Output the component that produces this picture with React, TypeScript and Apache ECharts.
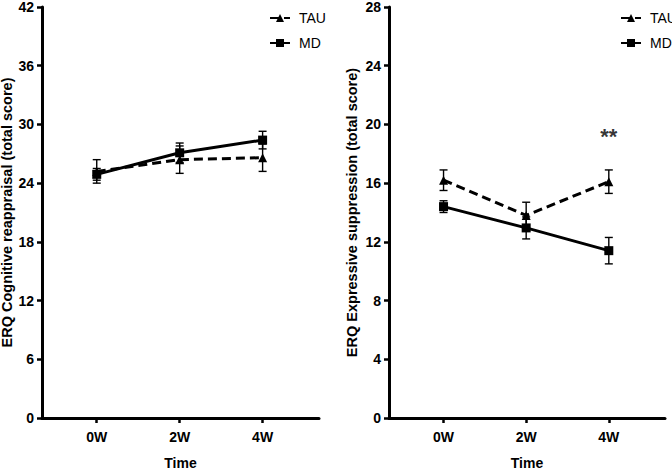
import React, { useEffect, useRef } from "react";
import * as echarts from "echarts";

const categories = ["0W", "2W", "4W"];
const catPos = [0, 1, 2];

const leftTAU = [25.2, 26.4, 26.6];
const leftTAUErr = [1.2, 1.4, 1.4];
const leftMD = [24.9, 27.1, 28.4];
const leftMDErr = [0.6, 1.0, 0.9];

const rightTAU = [16.2, 13.8, 16.1];
const rightTAUErr = [0.7, 0.9, 0.8];
const rightMD = [14.4, 12.95, 11.4];
const rightMDErr = [0.4, 0.75, 0.9];

const leftTitle = "ERQ Cognitive reappraisal (total score)";
const rightTitle = "ERQ Expressive suppression (total score)";
const xTitle = "Time";
const sigMark = { label: "**", x: 2, y: 19.2 };

const FONT = "'Liberation Sans', Arial, Helvetica, sans-serif";

function errSeries(vals: number[], errs: number[], axisIdx: number) {
  return {
    type: "custom",
    xAxisIndex: axisIdx,
    yAxisIndex: axisIdx,
    silent: true,
    z: 1,
    encode: { x: 0, y: 1 },
    data: catPos.map((p, i) => [p, vals[i], errs[i]]),
    renderItem: (params: any, api: any) => {
      const x = api.value(0);
      const y = api.value(1);
      const e = api.value(2);
      const top = api.coord([x, y + e]);
      const bot = api.coord([x, y - e]);
      const hw = 4;
      const st = { stroke: "#000", lineWidth: 1.4 };
      return {
        type: "group",
        children: [
          { type: "line", shape: { x1: top[0], y1: top[1], x2: bot[0], y2: bot[1] }, style: st },
          { type: "line", shape: { x1: top[0] - hw, y1: top[1], x2: top[0] + hw, y2: top[1] }, style: st },
          { type: "line", shape: { x1: bot[0] - hw, y1: bot[1], x2: bot[0] + hw, y2: bot[1] }, style: st },
        ],
      };
    },
  };
}

function lineSeries(name: string, vals: number[], axisIdx: number, dashed: boolean) {
  return {
    type: "line",
    name,
    xAxisIndex: axisIdx,
    yAxisIndex: axisIdx,
    z: 3,
    data: catPos.map((p, i) => [p, vals[i]]),
    symbol: dashed ? "triangle" : "rect",
    symbolSize: 9,
    itemStyle: { color: "#000" },
    lineStyle: { color: "#000", width: 3, type: dashed ? [9, 5] : "solid" },
  };
}

function xAxis(gridIndex: number) {
  return {
    type: "value",
    gridIndex,
    min: -0.66,
    max: 2.68,
    name: xTitle,
    nameLocation: "middle",
    nameGap: 38,
    nameTextStyle: { fontFamily: FONT, fontWeight: "bold", fontSize: 14, color: "#000" },
    splitLine: { show: false },
    axisLine: { show: true, onZero: false, lineStyle: { color: "#000", width: 3 } },
    axisTick: { show: true, customValues: catPos, length: 5, lineStyle: { width: 2.5, color: "#000" } },
    axisLabel: {
      customValues: catPos,
      formatter: (v: number) => categories[Math.round(v)] ?? "",
      fontFamily: FONT,
      fontWeight: "bold",
      fontSize: 14,
      color: "#000",
      margin: 12,
    },
  };
}

function yAxis(gridIndex: number, max: number, interval: number, name: string, gap: number) {
  return {
    type: "value",
    gridIndex,
    min: 0,
    max,
    interval,
    name,
    nameLocation: "middle",
    nameGap: gap,
    nameTextStyle: { fontFamily: FONT, fontWeight: "bold", fontSize: 14.5, color: "#000" },
    splitLine: { show: false },
    axisLine: { show: true, onZero: false, lineStyle: { color: "#000", width: 3 } },
    axisTick: { show: true, length: 5, lineStyle: { width: 2.5, color: "#000" } },
    axisLabel: { fontFamily: FONT, fontWeight: "bold", fontSize: 14, color: "#000", margin: 8 },
  };
}

function legend(left: number) {
  return {
    left,
    top: 6,
    orient: "vertical",
    itemGap: 11,
    itemWidth: 20,
    itemHeight: 10,
    data: ["TAU", "MD"],
    textStyle: { fontFamily: FONT, fontSize: 14, color: "#000", padding: [0, 0, 0, 4] },
  };
}

export default function App() {
  const ref = useRef<HTMLDivElement>(null);
  useEffect(() => {
    if (!ref.current) return;
    const chart = echarts.init(ref.current, undefined, { renderer: "svg" });
    chart.setOption({
      animation: false,
      backgroundColor: "#fff",
      grid: [
        { left: 42, top: 7, width: 277, height: 411, outerBoundsMode: "none", containLabel: false },
        { left: 389, top: 7, width: 276, height: 411, outerBoundsMode: "none", containLabel: false },
      ],
      legend: [legend(264), legend(615)],
      xAxis: [xAxis(0), xAxis(1)],
      yAxis: [yAxis(0, 42, 6, leftTitle, 26), yAxis(1, 28, 4, rightTitle, 30)],
      series: [
        errSeries(leftTAU, leftTAUErr, 0),
        errSeries(leftMD, leftMDErr, 0),
        lineSeries("TAU", leftTAU, 0, true),
        lineSeries("MD", leftMD, 0, false),
        errSeries(rightTAU, rightTAUErr, 1),
        errSeries(rightMD, rightMDErr, 1),
        lineSeries("TAU", rightTAU, 1, true),
        lineSeries("MD", rightMD, 1, false),
        {
          type: "scatter",
          xAxisIndex: 1,
          yAxisIndex: 1,
          symbolSize: 0,
          silent: true,
          data: [[sigMark.x, sigMark.y]],
          label: {
            show: true,
            position: "inside",
            formatter: sigMark.label,
            fontFamily: FONT,
            fontWeight: "bold",
            fontSize: 22,
            color: "#000",
          },
        },
      ],
    });
    return () => chart.dispose();
  }, []);
  return (
    <div
      ref={ref}
      style={{ position: "absolute", left: 0, top: 0, width: 672, height: 470 }}
    />
  );
}
